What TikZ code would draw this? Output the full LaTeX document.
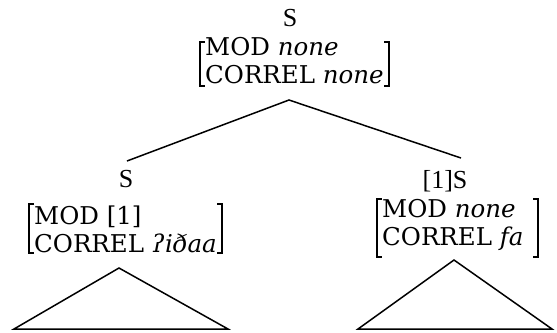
\documentclass[tikz,border=0pt]{standalone}
\usepackage{fontspec}
\setmainfont{DejaVu Serif}
\newfontfamily\catfont{Liberation Serif}
\begin{document}
\begin{tikzpicture}[x=1bp,y=-1bp,
  cat/.style={inner sep=0pt,anchor=base,font=\catfont\fontsize{26bp}{30bp}\selectfont},
  avm/.style={inner sep=0pt,anchor=base west,font=\fontsize{24.5bp}{28bp}\selectfont},
  bracket/.style={line width=1.3bp},
  branch/.style={line width=1.5bp,line join=miter}]
\useasboundingbox (0,0) rectangle (557,332);

% root
\node[cat] (s0) at (290,26) {S};
\node[avm] (f0) at (205,55)
  {\begin{tabular}[t]{@{}l@{}}MOD \textit{none}\\CORREL \textit{none}\end{tabular}};
\draw[bracket] (205,42) -- (200,42) -- (200,86) -- (205,86);
\draw[bracket] (384,42) -- (389,42) -- (389,86) -- (384,86);

% left daughter
\node[cat] (s1) at (126,187) {S};
\node[avm] (f1) at (34,224)
  {\begin{tabular}[t]{@{}l@{}}MOD [1]\\CORREL \textit{ʔiðaa}\end{tabular}};
\draw[bracket] (34,204) -- (29,204) -- (29,253) -- (34,253);
\draw[bracket] (217,204) -- (222,204) -- (222,253) -- (217,253);

% right daughter
\node[cat] (s2) at (445,188) {[1]S};
\node[avm] (f2) at (382,217)
  {\begin{tabular}[t]{@{}l@{}}MOD \textit{none}\\CORREL \textit{fa}\end{tabular}};
\draw[bracket] (382,199) -- (377,199) -- (377,257) -- (382,257);
\draw[bracket] (533,199) -- (538,199) -- (538,257) -- (533,257);

% branch points
\coordinate (root) at (289,100);
\coordinate (lhead) at (127,161);
\coordinate (rhead) at (461,158);
\draw[branch] (lhead) -- (root) -- (rhead);

% subtrees left unexpanded
\coordinate (ltop) at (119,268);
\coordinate (lbl) at (14,329);
\coordinate (lbr) at (228,329);
\coordinate (rtop) at (454,260);
\coordinate (rbl) at (358,329);
\coordinate (rbr) at (552,329);
\draw[branch] (ltop) -- (lbl) -- (lbr) -- cycle;
\draw[branch] (rtop) -- (rbl) -- (rbr) -- cycle;
\end{tikzpicture}
\end{document}
